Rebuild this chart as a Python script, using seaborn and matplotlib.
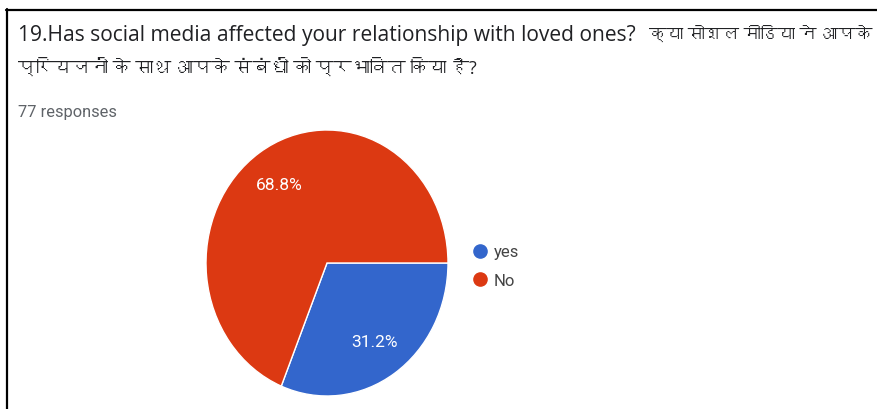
import matplotlib
matplotlib.use("Agg")
import matplotlib.pyplot as plt
from matplotlib import font_manager
from matplotlib.ft2font import FT2Font
from matplotlib.lines import Line2D
import seaborn as sns

# Survey answers
answers = ["yes", "No"]
counts = [24, 53]
title_en = "19.Has social media affected your relationship with loved ones?"
title_hi_1 = "क्या सोशल मीडिया ने आपके"
title_hi_2 = "प्रियजनों के साथ आपके संबंधों को प्रभावित किया है?"
colors = ["#3366cc", "#dc3912"]

sns.set_theme(style="white")


def find_devanagari_fonts():
    found = []
    for entry in font_manager.fontManager.ttflist:
        try:
            cmap = FT2Font(entry.fname).get_charmap()
        except Exception:
            continue
        if 0x0915 in cmap and entry.name not in found:
            found.append(entry.name)
    return found


deva = find_devanagari_fonts()
plt.rcParams["font.family"] = ["Roboto"] + deva[:1] + ["DejaVu Sans"]
title_family = ["Open Sans"] + deva[:1] + ["DejaVu Sans"]

W, H = 877, 410
fig = plt.figure(figsize=(W / 100, H / 100), dpi=100)
fig.patch.set_facecolor("white")


def px_axes(x0, y0, x1, y1):
    return fig.add_axes([x0 / W, 1 - y1 / H, (x1 - x0) / W, (y1 - y0) / H])


ax = px_axes(206, 131, 448, 397)
wedges, texts, autotexts = ax.pie(
    counts,
    colors=sns.color_palette(colors),
    startangle=0,
    counterclock=False,
    autopct="%.1f%%",
    pctdistance=0.71,
    radius=1.0,
    wedgeprops=dict(edgecolor="white", linewidth=1.0),
    textprops=dict(color="white", fontsize=12.5),
)
ax.set_aspect("auto")
ax.set_xlim(-1, 1)
ax.set_ylim(-1, 1)
ax.axis("off")

# Question title (English part, then the Hindi translation)
fig.text(18 / W, 1 - 35 / H, title_en, fontsize=15.1, family=title_family,
         color="#202124", va="center", ha="left")
fig.text(649 / W, 1 - 35 / H, title_hi_1, fontsize=12.3, family=title_family,
         color="#202124", va="center", ha="left")
fig.text(18 / W, 1 - 68 / H, title_hi_2, fontsize=13, family=title_family,
         color="#202124", va="center", ha="left")
fig.text(18 / W, 1 - 113 / H, f"{sum(counts)} responses", fontsize=11.8,
         color="#5f6368", va="center", ha="left")

# Legend
handles = [Line2D([], [], marker="o", linestyle="", markersize=9.5,
                  markerfacecolor=c, markeredgecolor=c) for c in colors]
fig.legend(handles, answers, loc="center left",
           bbox_to_anchor=(471.5 / W, 1 - 267 / H), frameon=False,
           fontsize=12, labelcolor="#444444", handletextpad=0.34,
           labelspacing=0.8, handlelength=1.0, borderpad=0, borderaxespad=0)

# Screenshot frame edges
fig.add_artist(Line2D([6 / W, 1], [1 - 10.5 / H, 1 - 10.5 / H],
                      color="black", linewidth=1.6, transform=fig.transFigure))
fig.add_artist(Line2D([6.5 / W, 6.5 / W], [0, 1 - 10 / H],
                      color="black", linewidth=1.6, transform=fig.transFigure))

fig.savefig("out.png", dpi=100, facecolor="white")
